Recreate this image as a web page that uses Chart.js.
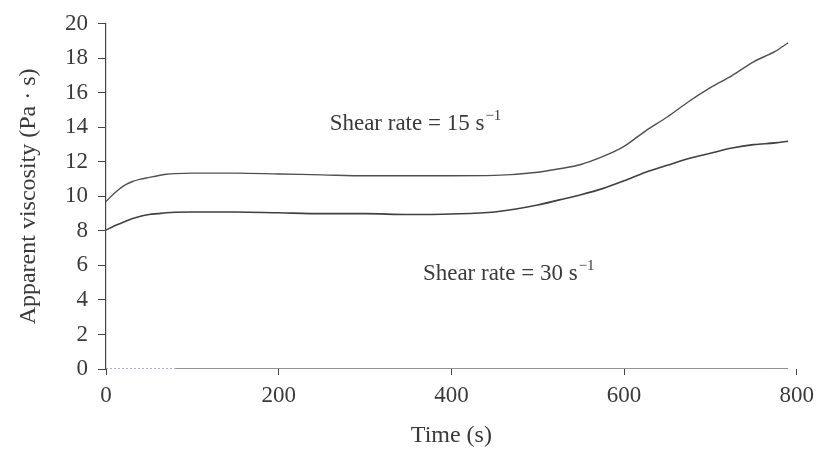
<!DOCTYPE html>
<html><head><meta charset="utf-8">
<script src="https://cdn.jsdelivr.net/npm/chart.js@4"></script>
<style>html,body{margin:0;padding:0;background:#fff}#wrap{width:821px;height:455px}</style>
</head><body><div id="wrap"><canvas id="c"></canvas></div>
<script>
const times = [0,10,20,30,40,50,60,70,80,100,150,200,250,300,350,400,450,500,525,550,575,600,625,650,675,700,725,750,775,790];
const rate15 = [9.7,10.2,10.6,10.85,11.0,11.1,11.2,11.28,11.32,11.35,11.35,11.3,11.25,11.2,11.2,11.2,11.22,11.4,11.6,11.85,12.3,12.9,13.8,14.6,15.5,16.3,17.0,17.8,18.4,18.9];
const rate30 = [8.05,8.3,8.5,8.7,8.85,8.95,9.0,9.05,9.08,9.1,9.1,9.05,9.0,9.0,8.95,8.98,9.1,9.5,9.8,10.1,10.45,10.9,11.4,11.8,12.2,12.5,12.8,13.0,13.1,13.2];
const baseDottedTimes = [0,80];
const baseDottedValues = [0,0];
const baseSolidTimes = [80,790];
const baseSolidValues = [0,0];
const xTicks = [0,200,400,600,800];
const yTicks = [0,2,4,6,8,10,12,14,16,18,20];
const labels = [
  {text:'Shear rate = 15 s', sup:'\u22121', t:259, v:14.2},
  {text:'Shear rate = 30 s', sup:'\u22121', t:367, v:5.5}
];
const FONT = '"Liberation Serif","Times New Roman",serif';
const TXT = '#3a3a3a';

const annot = {
  id:'annot',
  afterDatasetsDraw(chart){
    const {ctx, scales:{x,y}} = chart;
    ctx.save();
    ctx.fillStyle = TXT;
    ctx.textBaseline = 'middle';
    ctx.textAlign = 'left';
    labels.forEach(l=>{
      const px = x.getPixelForValue(l.t), py = y.getPixelForValue(l.v);
      ctx.font = '23px ' + FONT;
      ctx.fillText(l.text, px, py);
      const w = ctx.measureText(l.text).width;
      ctx.font = '15px ' + FONT;
      ctx.fillText(l.sup, px + w + 1, py - 8);
    });
    ctx.restore();
  }
};

const toPts = (xs, ys) => xs.map((t,i)=>({x:t, y:ys[i]}));
new Chart(document.getElementById('c'), {
  type:'line',
  data:{datasets:[
    {data:toPts(times, rate15), borderColor:'#505050', borderWidth:1.4, pointRadius:0, tension:0.4, cubicInterpolationMode:'monotone'},
    {data:toPts(times, rate30), borderColor:'#404040', borderWidth:1.6, pointRadius:0, tension:0.4, cubicInterpolationMode:'monotone'},
    {data:toPts(baseDottedTimes, baseDottedValues), borderColor:'#7a7a90', borderWidth:1.2, borderDash:[2,2], pointRadius:0},
    {data:toPts(baseSolidTimes, baseSolidValues), borderColor:'#6a6a8a', borderWidth:1.6, pointRadius:0}
  ]},
  options:{
    responsive:true, maintainAspectRatio:false, animation:false,
    layout:{padding:{left:0, top:17, right:21, bottom:0}},
    plugins:{legend:{display:false}, tooltip:{enabled:false}},
    scales:{
      x:{type:'linear', min:0, max:800,
        afterBuildTicks(s){ s.ticks = xTicks.map(v=>({value:v})); },
        afterFit(s){ s.height = 86; },
        border:{display:false},
        grid:{drawOnChartArea:false, drawTicks:true, tickLength:6, color:'#444', tickWidth:1},
        ticks:{font:{family:FONT, size:23}, color:TXT, padding:7, maxRotation:0},
        title:{display:true, text:'Time (s)', font:{family:FONT, size:24}, color:TXT, padding:{top:0, bottom:5}}
      },
      y:{min:0, max:20,
        afterBuildTicks(s){ s.ticks = yTicks.map(v=>({value:v})); },
        afterFit(s){ s.width = 106; },
        border:{display:true, color:'#444', width:1.2},
        grid:{drawOnChartArea:false, drawTicks:true, tickLength:8, color:'#444'},
        ticks:{font:{family:FONT, size:23}, color:TXT, padding:10},
        title:{display:true, text:'Apparent viscosity (Pa \u00b7 s)', font:{family:FONT, size:24}, color:TXT, padding:{top:14, bottom:0}}
      }
    }
  },
  plugins:[annot]
});
</script>
</body></html>
